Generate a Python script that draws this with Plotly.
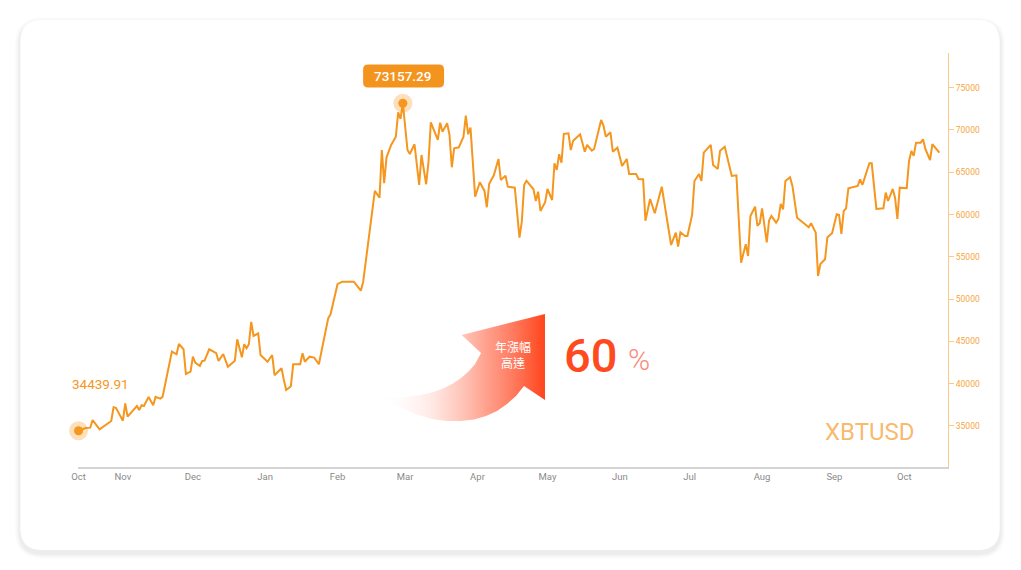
import pandas as pd
import plotly.graph_objects as go

# ---------------- data ----------------
start_date = "2023-10-13"
day_offsets = [
    0, 3, 5, 6, 9, 14, 15, 16, 19, 20, 21, 25, 26, 27, 28, 30, 32, 33, 35, 36,
    40, 42, 43, 45, 46, 48, 49, 50, 52, 53, 54, 56, 59, 60, 62, 64, 67, 68, 70, 71,
    72, 73, 74, 75, 77, 78, 81, 83, 84, 87, 88, 89, 91, 92, 95, 96, 97, 99, 101, 103,
    107, 108, 111, 113, 118, 121, 122, 127, 129, 130, 131, 132, 134, 136, 137, 138, 139, 141, 142, 144,
    146, 147, 149, 150, 151, 154, 155, 156, 158, 159, 160, 161, 163, 165, 166, 167, 168, 170, 172, 174,
    175, 176, 178, 180, 181, 183, 184, 187, 189, 190, 191, 192, 195, 196, 197, 198, 200, 201, 203, 204,
    205, 206, 207, 208, 210, 211, 212, 215, 217, 218, 220, 221, 224, 225, 226, 228, 229, 231, 233, 235,
    236, 239, 240, 242, 243, 245, 247, 250, 254, 256, 257, 258, 260, 261, 263, 264, 266, 267, 268, 271,
    272, 274, 275, 277, 280, 282, 284, 286, 287, 288, 290, 291, 292, 293, 295, 296, 297, 299, 300, 301,
    302, 303, 305, 306, 308, 313, 314, 316, 317, 318, 320, 321, 323, 325, 326, 327, 328, 329, 330, 334,
    335, 336, 339, 340, 342, 345, 346, 347, 349, 350, 351, 352, 355, 356, 357, 358, 359, 361, 362, 363,
    365, 366, 369,
]
prices = [
    34439.91, 34760, 34800, 35710, 34610, 35590, 37210, 37150, 35630, 37680, 36100, 37360, 36890, 37450, 37360, 38440, 37460, 38440, 38240, 38440,
    43790, 43480, 44700, 44070, 41150, 41420, 43190, 42490, 42090, 42690, 42720, 44070, 43600, 42690, 43510, 42010, 42720, 45250, 43120, 44660,
    44190, 44660, 47300, 45640, 45960, 43390, 42600, 43390, 41000, 41830, 40440, 39260, 39700, 42290, 42290, 43590, 42600, 43190, 43080, 42300,
    47730, 48210, 51760, 52060, 52060, 51000, 52060, 62790, 61990, 67630, 63700, 66770, 68230, 69210, 72090, 71300, 73157.29, 67630, 67160, 68310,
    63500, 67040, 63580, 66250, 70910, 68820, 70860, 69800, 70790, 69410, 65590, 67840, 67950, 69210, 71690, 69490, 70270, 62110, 63820, 62790,
    60860, 63610, 64640, 66570, 64090, 64600, 63300, 63180, 57260, 59160, 63500, 64000, 62990, 61600, 62700, 60420, 61450, 63020, 61720, 66060,
    65270, 67130, 66130, 69530, 69610, 67630, 68730, 69490, 67430, 68230, 67550, 67750, 71180, 70510, 69210, 69730, 67430, 67910, 65740, 66570,
    64800, 64800, 64210, 64170, 59270, 61840, 60150, 63300, 56400, 57860, 56200, 57900, 57470, 57470, 59950, 63970, 64800, 63970, 67320, 68230,
    65860, 65390, 67550, 68020, 64560, 64640, 54310, 56480, 55100, 59830, 60930, 58650, 58970, 60740, 56700, 59300, 59830, 59040, 59480, 61250,
    60620, 63970, 64410, 63380, 59630, 58490, 58970, 57860, 52740, 54160, 54710, 57310, 57790, 60030, 59950, 57700, 60420, 60740, 63110, 63380,
    64170, 63500, 66060, 66060, 60660, 60740, 62590, 61600, 63020, 61990, 59480, 63180, 63110, 66330, 67520, 66930, 68500, 68500, 68900, 67750,
    66450, 68310, 67320,
]
assert len(day_offsets) == len(prices)

month_tick_dates = ["2023-10-13", "2023-11-01", "2023-12-01", "2024-01-01", "2024-02-01", "2024-03-01",
                    "2024-04-01", "2024-05-01", "2024-06-01", "2024-07-01", "2024-08-01", "2024-09-01",
                    "2024-10-01"]
month_tick_labels = ["Oct", "Nov", "Dec", "Jan", "Feb", "Mar", "Apr", "May", "Jun", "Jul", "Aug", "Sep", "Oct"]
y_tick_values = [35000, 40000, 45000, 50000, 55000, 60000, 65000, 70000, 75000]
symbol_name = "XBTUSD"
growth_text = "60"
growth_caption = "年漲幅<br>高達"

# ---------------- style ----------------
ORANGE = "#F5961E"
LIGHT_ORANGE = "#FCC98C"
RED = "#FF4A1F"
W, H = 1021, 570
L, R_, T, B = 77.7, 948.3, 53, 467  # plot area in pixels

dates = pd.Timestamp(start_date) + pd.to_timedelta(day_offsets, unit="D")
peak_i = max(range(len(prices)), key=lambda i: prices[i])

def pxx(x):
    return (x - L) / (R_ - L)

def pxy(y):
    return (B - y) / (B - T)

def rrect(x0, y0, x1, y1, r):
    return (f"M {pxx(x0 + r)},{pxy(y0)} L {pxx(x1 - r)},{pxy(y0)} "
            f"Q {pxx(x1)},{pxy(y0)} {pxx(x1)},{pxy(y0 + r)} L {pxx(x1)},{pxy(y1 - r)} "
            f"Q {pxx(x1)},{pxy(y1)} {pxx(x1 - r)},{pxy(y1)} L {pxx(x0 + r)},{pxy(y1)} "
            f"Q {pxx(x0)},{pxy(y1)} {pxx(x0)},{pxy(y1 - r)} L {pxx(x0)},{pxy(y0 + r)} "
            f"Q {pxx(x0)},{pxy(y0)} {pxx(x0 + r)},{pxy(y0)} Z")

fig = go.Figure()

# decorative gradient arrow on a pixel-space overlay axis
arrow_x = [377, 392, 405, 418, 430, 442, 452, 461, 469, 475, 481, 461.7, 545, 545, 524,
           516, 507, 497, 486, 474, 461, 447, 432, 418, 404, 390, 377]
arrow_y = [397, 397.5, 397, 395.5, 393, 389, 384, 378, 371, 364, 353, 335, 314, 400, 386,
           396, 404, 411, 416, 419.5, 421, 421, 419, 415, 409, 403, 397]
fig.add_trace(go.Scatter(
    x=arrow_x, y=arrow_y, xaxis="x2", yaxis="y2", mode="lines", line=dict(width=0),
    fill="toself",
    fillgradient=dict(type="horizontal", colorscale=[
        [0, "rgba(255,255,255,0)"], [0.3, "rgba(255,150,130,0.18)"],
        [0.65, "rgba(255,110,80,0.65)"], [1, "rgb(255,68,28)"]]),
    hoverinfo="skip", showlegend=False))

fig.add_trace(go.Scatter(x=dates, y=prices, mode="lines", line=dict(color=ORANGE, width=2),
                         cliponaxis=False, showlegend=False, hoverinfo="x+y"))

mark_x = [dates[0], dates[peak_i]]
mark_y = [prices[0], prices[peak_i]]
fig.add_trace(go.Scatter(x=mark_x, y=mark_y, mode="markers", cliponaxis=False,
                         marker=dict(size=19, color="rgba(245,150,30,0.3)"), showlegend=False, hoverinfo="skip"))
fig.add_trace(go.Scatter(x=mark_x, y=mark_y, mode="markers", cliponaxis=False,
                         marker=dict(size=9, color=ORANGE), showlegend=False, hoverinfo="skip"))

shapes = []
# card shadow + card
for i, a in enumerate([0.008, 0.010, 0.012, 0.016, 0.022]):
    g = 6 - i
    shapes.append(dict(type="path", xref="paper", yref="paper", layer="below",
                       path=rrect(20 - g, 20 - g + 3, 1000 + g, 550 + g + 3, 22 + g),
                       fillcolor=f"rgba(0,0,0,{a})", line=dict(width=0)))
shapes.append(dict(type="path", xref="paper", yref="paper", layer="below",
                   path=rrect(20, 20, 1000, 550, 22), fillcolor="#ffffff", line=dict(width=0)))
# peak label box
shapes.append(dict(type="path", xref="paper", yref="paper", layer="above",
                   path=rrect(363, 64.5, 444, 87.5, 5), fillcolor="#F3941F", line=dict(width=0)))

annotations = [
    dict(x=dates[peak_i], y=prices[peak_i], xref="x", yref="y", yshift=27.5, text=f"{prices[peak_i]:.2f}",
         xanchor="center", yanchor="middle",
         showarrow=False, font=dict(family="Roboto", size=13.5, color="white", weight=500)),
    dict(x=dates[0], y=prices[0], xref="x", yref="y", xshift=-9, yshift=47, xanchor="left", yanchor="middle",
         text=f"{prices[0]:.2f}", showarrow=False, font=dict(family="Roboto", size=13.5, color=ORANGE)),
    dict(x=pxx(917), y=pxy(431.7), xref="paper", yref="paper", xanchor="right", yanchor="middle",
         text=symbol_name, showarrow=False, font=dict(family="Roboto", size=24, color="rgba(245,150,30,0.68)")),
    dict(x=pxx(513.3), y=pxy(354.5), xref="paper", yref="paper", xanchor="center", yanchor="middle",
         text=growth_caption, showarrow=False,
         font=dict(family="Noto Sans CJK TC", size=12, color="white")),
    dict(x=pxx(590.5), y=pxy(355), xref="paper", yref="paper", xanchor="center", yanchor="middle",
         text=growth_text, showarrow=False,
         font=dict(family="Roboto", size=47, color=RED, weight=500)),
    dict(x=pxx(639), y=pxy(359), xref="paper", yref="paper", xanchor="center", yanchor="middle",
         text="%", showarrow=False,
         font=dict(family="Roboto", size=30, color="#FA8C7C", weight=300)),
]

fig.update_layout(
    width=W, height=H,
    margin=dict(l=L, r=W - R_, t=T, b=H - B, pad=0),
    paper_bgcolor="#ffffff", plot_bgcolor="rgba(0,0,0,0)",
    shapes=shapes, annotations=annotations,
    xaxis=dict(type="date",
               range=[pd.Timestamp(start_date) - pd.Timedelta(hours=6),
                      pd.Timestamp(start_date) + pd.Timedelta(days=372.7)],
               tickvals=month_tick_dates, ticktext=month_tick_labels,
               showgrid=False, zeroline=False, showline=True, linecolor="#d4d4d4", linewidth=1.5,
               ticks="", tickfont=dict(family="Roboto", size=9.5, color="#8a8a8a")),
    yaxis=dict(side="right", range=[30150, 79100], tickvals=y_tick_values, tickformat="d",
               showgrid=False, zeroline=False, showline=True, linecolor=LIGHT_ORANGE, linewidth=1.2,
               ticks="outside", ticklen=5, tickcolor=LIGHT_ORANGE, tickwidth=1,
               tickfont=dict(family="Roboto", size=8.5, color="#F6A541")),
    xaxis2=dict(overlaying="x", range=[L, R_], visible=False, fixedrange=True),
    yaxis2=dict(overlaying="y", range=[B, T], visible=False, fixedrange=True),
    showlegend=False,
)

fig.write_html("out.html", config={"displayModeBar": False},
               post_script="document.body.style.margin='0';document.body.style.padding='0';")
